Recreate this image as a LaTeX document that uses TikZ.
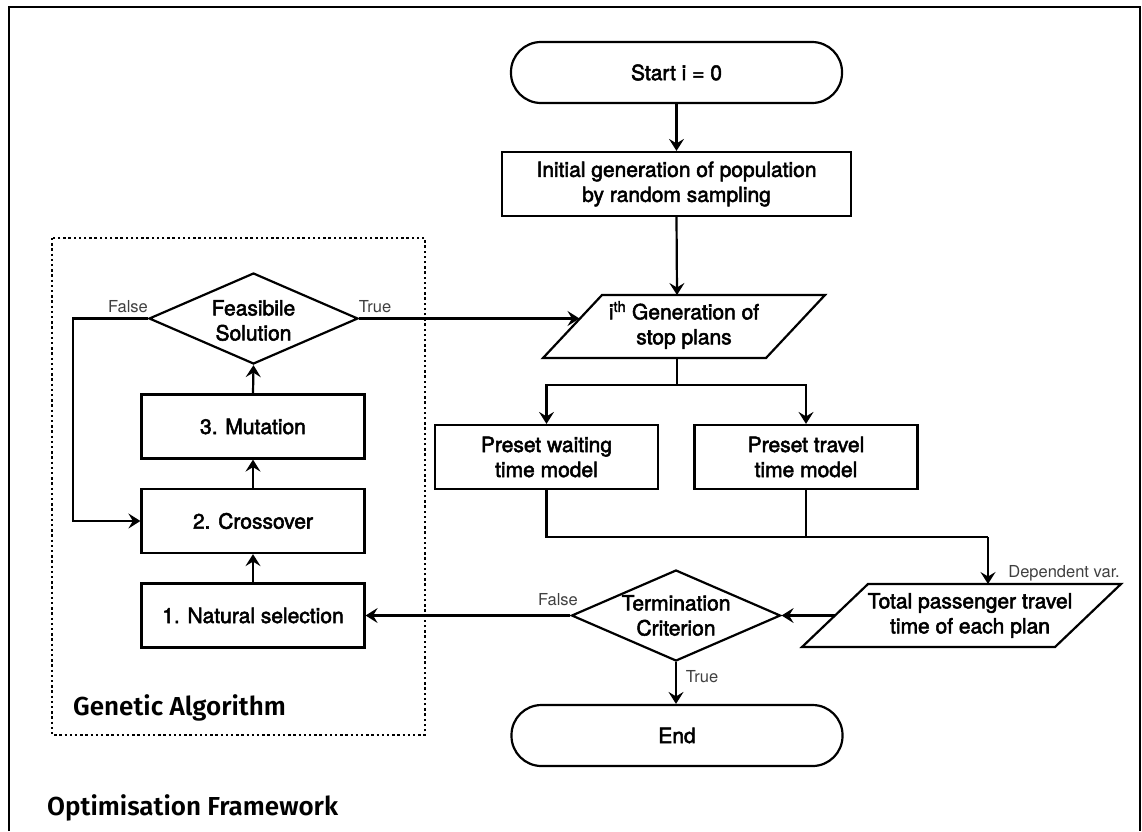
\documentclass[tikz,border=0pt]{standalone}
\usepackage{fontspec}
\setmainfont{TeX Gyre Heros}[FakeBold=2.5]
\newfontfamily\labfont{TeX Gyre Heros}
\newfontfamily\headfont{Fira Sans SemiBold}
\usetikzlibrary{shapes.geometric,arrows.meta,calc}
\begin{document}
\begin{tikzpicture}[x=1pt,y=-1pt,
  every node/.style={font=\fontsize{21}{25}\selectfont, align=center, inner sep=0pt},
  box/.style={draw, line width=2.2pt, minimum width=223pt, minimum height=64pt},
  term/.style={draw, line width=2.2pt, rounded corners=30pt, minimum width=331pt, minimum height=61pt},
  dia/.style={draw, shape=diamond, line width=2.2pt, minimum width=209pt, minimum height=91pt},
  lab/.style={font=\labfont\fontsize{16.5}{18}\selectfont, text=black!75},
  conn/.style={line width=2.2pt, -{Stealth[length=12pt,width=15pt,inset=4.5pt]}},
  plain/.style={line width=2.2pt},
  head/.style={font=\headfont\fontsize{26}{28}\selectfont, anchor=base west}
]
\useasboundingbox (0,0) rectangle (1142,831);
% outer frame
\draw[line width=2.8pt] (9,831) -- (9,7) -- (1140,7) -- (1140,831);
% GA dotted frame
\draw[line width=2.4pt, dash pattern=on 2.4pt off 2.8pt] (52,238) rectangle (425,735);

% main column
\node[term] (start) at (676.5,72.5) {Start i = 0};
\node[box, minimum width=349pt] (init) at (676.5,184) {Initial generation of population\\by random sampling};

\coordinate (g1) at (543,358);
\coordinate (g2) at (602,295);
\coordinate (g3) at (825,295);
\coordinate (g4) at (766,358);
\draw[plain, line join=miter] (g1) -- (g2) -- (g3) -- (g4) -- cycle;
\node (gen) at (684,325) {i\textsuperscript{th} Generation of\\stop plans};

\node[box] (wait) at (546.5,457) {Preset waiting\\time model};
\node[box] (travel) at (806,457) {Preset travel\\time model};

\coordinate (t1) at (802,647);
\coordinate (t2) at (868,584);
\coordinate (t3) at (1121,584);
\coordinate (t4) at (1055,647);
\draw[plain, line join=miter] (t1) -- (t2) -- (t3) -- (t4) -- cycle;
\node (tot) at (970,615.5) {Total passenger travel\\time of each plan};

\node[dia] (tc) at (676,615.5) {};
\node (tctext) at (676,615.5) {Termination\\Criterion};
\node[term] (end) at (677,735.5) {End};

% GA column
\node[dia] (fs) at (253.5,318.5) {};
\node (fstext) at (253.5,320.5) {Feasibile\\Solution};
\node[box] (mut) at (253,426.5) {3. Mutation};
\node[box] (cross) at (253,521) {2. Crossover};
\node[box] (nat) at (253,615.5) {1. Natural selection};

% connectors main
\draw[conn] (start.south) -- (start.south |- init.north);
\coordinate (genTop) at (677,295);
\draw[conn] (init.south) -- (genTop);
\coordinate (genBot) at (677,358);
\coordinate (split) at (677,385);
\draw[plain] (genBot) -- (split);
\draw[conn] (split) -| (wait.north);
\draw[conn] (split) -| (travel.north);
\coordinate (join) at (988,537);
\draw[plain] (wait.south) |- (join);
\draw[plain] (travel.south) -- (travel.south |- join);
\coordinate (totTop) at (988,584);
\draw[conn] (join) -- (totTop);
\coordinate (totL) at (834.5,615.5);
\draw[conn] (totL) -- (tc.east);
\draw[conn] (tc.west) -- (nat.east);
\draw[conn] (tc.south) -- (tc.south |- end.north);

% connectors GA
\draw[conn] (nat.north) -- (cross.south);
\draw[conn] (cross.north) -- (mut.south);
\draw[conn] (mut.north) -- (fs.south);
\coordinate (genL) at (579.5,318.5);
\draw[conn] (fs.east) -- (genL);
\coordinate (fl) at (73,318.5);
\draw[conn] (fs.west) -- (fl) |- (cross.west);

% labels
\node[lab] (lf1) at (128,307) {False};
\node[lab] (lt1) at (375,307) {True};
\node[lab] (lf2) at (558,600) {False};
\node[lab] (lt2) at (702,677) {True};
\node[lab] (ldv) at (1064,573) {Dependent var.};

\node[head] (hga) at (73,715) {Genetic Algorithm};
\node[head] (hof) at (47,815) {Optimisation Framework};
\end{tikzpicture}
\end{document}
